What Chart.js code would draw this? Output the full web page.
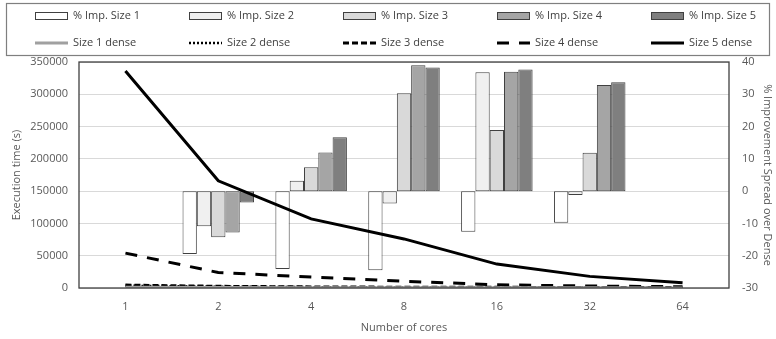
<!DOCTYPE html>
<html>
<head>
<meta charset="utf-8">
<title>Spread vs dense execution time</title>
<script src="https://cdn.jsdelivr.net/npm/chart.js@4.4.1/dist/chart.umd.min.js"></script>
<style>
  html, body { margin: 0; padding: 0; background: #fff; }
  #chart { display: block; }
</style>
</head>
<body>
<canvas id="chart" width="776" height="339"></canvas>
<script>
const coreCounts = ["1", "2", "4", "8", "16", "32", "64"];

// % improvement of spread over dense placement (right axis)
const impSize1 = [null, -19.5, -24.1, -24.5, -12.6, -9.8, null];
const impSize2 = [null, -10.9, 3.2, -3.8, 36.8, -1.2, null];
const impSize3 = [null, -14.3, 7.4, 30.3, 18.9, 11.9, null];
const impSize4 = [null, -12.8, 12.0, 39.0, 37.0, 32.9, null];
const impSize5 = [null, -3.5, 16.7, 38.3, 37.7, 33.7, null];

// dense execution time in seconds (left axis)
const denseSize1 = [1200, 700, 500, 350, 250, 200, 150];
const denseSize2 = [3500, 2000, 1300, 900, 700, 600, 500];
const denseSize3 = [4500, 2600, 1700, 1200, 1000, 900, 800];
const denseSize4 = [54000, 24000, 17000, 10500, 5000, 3000, 2000];
const denseSize5 = [336000, 166000, 107000, 76000, 37000, 18000, 8000];

const timeTicks = { min: 0, max: 350000, step: 25000, labelEvery: 50000 };
const pctTicks = { min: -30, max: 40, step: 10 };

const FONT = "'Open Sans', 'Liberation Sans', sans-serif";
Chart.defaults.font.family = FONT;
Chart.defaults.font.size = 11;
Chart.defaults.color = "#595959";

function barDataset(label, data, fill) {
  return {
    type: "bar",
    label,
    data,
    backgroundColor: fill,
    borderColor: "#404040",
    borderWidth: 1,
    borderSkipped: false,
    inflateAmount: 0,
    yAxisID: "yPct",
    categoryPercentage: 0.77,
    barPercentage: 1,
    order: 2
  };
}

function lineDataset(label, data, color, width, dash) {
  return {
    type: "line",
    label,
    data,
    borderColor: color,
    backgroundColor: color,
    borderWidth: width,
    borderDash: dash,
    borderCapStyle: "butt",
    pointRadius: 0,
    pointHoverRadius: 0,
    tension: 0,
    fill: false,
    yAxisID: "yTime",
    order: 1
  };
}

// frame around the plot area
const plotFrame = {
  id: "plotFrame",
  afterDatasetsDraw(chart) {
    const { ctx, chartArea: a } = chart;
    ctx.save();
    ctx.strokeStyle = "#404040";
    ctx.lineWidth = 1.3;
    ctx.strokeRect(a.left, a.top, a.right - a.left, a.bottom - a.top);
    ctx.restore();
  }
};

// boxed legend, five entries per row
const boxedLegend = {
  id: "boxedLegend",
  afterDraw(chart) {
    const ctx = chart.ctx;
    const datasets = chart.data.datasets;
    ctx.save();
    ctx.strokeStyle = "#7f7f7f";
    ctx.lineWidth = 1.2;
    ctx.strokeRect(6.5, 3.5, chart.width - 13, 52);
    ctx.font = "11px " + FONT;
    ctx.textBaseline = "middle";
    datasets.forEach((ds, i) => {
      const col = i % 5;
      const row = Math.floor(i / 5);
      const x = 35 + col * 154;
      const y = row === 0 ? 16 : 43;
      if (ds.type === "bar") {
        ctx.fillStyle = ds.backgroundColor;
        ctx.fillRect(x, y - 3.5, 32, 7);
        ctx.strokeStyle = ds.borderColor;
        ctx.lineWidth = 1;
        ctx.strokeRect(x + 0.5, y - 3.5, 32, 7);
      } else {
        ctx.strokeStyle = ds.borderColor;
        ctx.lineWidth = ds.borderWidth;
        ctx.setLineDash(ds.borderDash || []);
        ctx.beginPath();
        ctx.moveTo(x, y);
        ctx.lineTo(x + 33, y);
        ctx.stroke();
        ctx.setLineDash([]);
      }
      ctx.fillStyle = "#404040";
      ctx.fillText(ds.label, x + 38, y);
    });
    ctx.restore();
  }
};

new Chart(document.getElementById("chart").getContext("2d"), {
  type: "bar",
  data: {
    labels: coreCounts,
    datasets: [
      barDataset("% Imp. Size 1", impSize1, "#ffffff"),
      barDataset("% Imp. Size 2", impSize2, "#f0f0f0"),
      barDataset("% Imp. Size 3", impSize3, "#d9d9d9"),
      barDataset("% Imp. Size 4", impSize4, "#a5a5a5"),
      barDataset("% Imp. Size 5", impSize5, "#7f7f7f"),
      lineDataset("Size 1 dense", denseSize1, "#a0a0a0", 3, []),
      lineDataset("Size 2 dense", denseSize2, "#000000", 2.5, [2, 2]),
      lineDataset("Size 3 dense", denseSize3, "#000000", 3, [6, 3]),
      lineDataset("Size 4 dense", denseSize4, "#000000", 3, [12, 10]),
      lineDataset("Size 5 dense", denseSize5, "#000000", 3, [])
    ]
  },
  options: {
    responsive: false,
    animation: false,
    layout: { padding: { top: 62, left: 0, right: 0, bottom: 0 } },
    datasets: {
      bar: { barPercentage: 1, categoryPercentage: 0.77 }
    },
    plugins: {
      legend: { display: false },
      tooltip: { enabled: false }
    },
    scales: {
      x: {
        type: "category",
        offset: true,
        grid: { display: false, drawTicks: false },
        border: { display: false },
        ticks: { padding: 12, maxRotation: 0 },
        title: { display: true, text: "Number of cores", padding: { top: 0, bottom: 5 } },
        afterFit: (scale) => { scale.height = 51; }
      },
      yTime: {
        type: "linear",
        position: "left",
        min: timeTicks.min,
        max: timeTicks.max,
        grid: { color: "#d9d9d9", lineWidth: 1, drawTicks: false },
        border: { display: false },
        ticks: {
          stepSize: timeTicks.step,
          padding: 11,
          callback: (value) => (value % timeTicks.labelEvery === 0 ? String(value) : "")
        },
        title: { display: true, text: "Execution time (s)", padding: { top: 10, bottom: 0 } },
        afterFit: (scale) => { scale.width = 79; }
      },
      yPct: {
        type: "linear",
        position: "right",
        min: pctTicks.min,
        max: pctTicks.max,
        grid: { display: false, drawTicks: false },
        border: { display: false },
        ticks: { stepSize: pctTicks.step, padding: 13 },
        title: { display: true, text: "% Improvement Spread over Dense", padding: { top: 2, bottom: 0 } },
        afterFit: (scale) => { scale.width = 47; }
      }
    }
  },
  plugins: [plotFrame, boxedLegend]
});
</script>
</body>
</html>
